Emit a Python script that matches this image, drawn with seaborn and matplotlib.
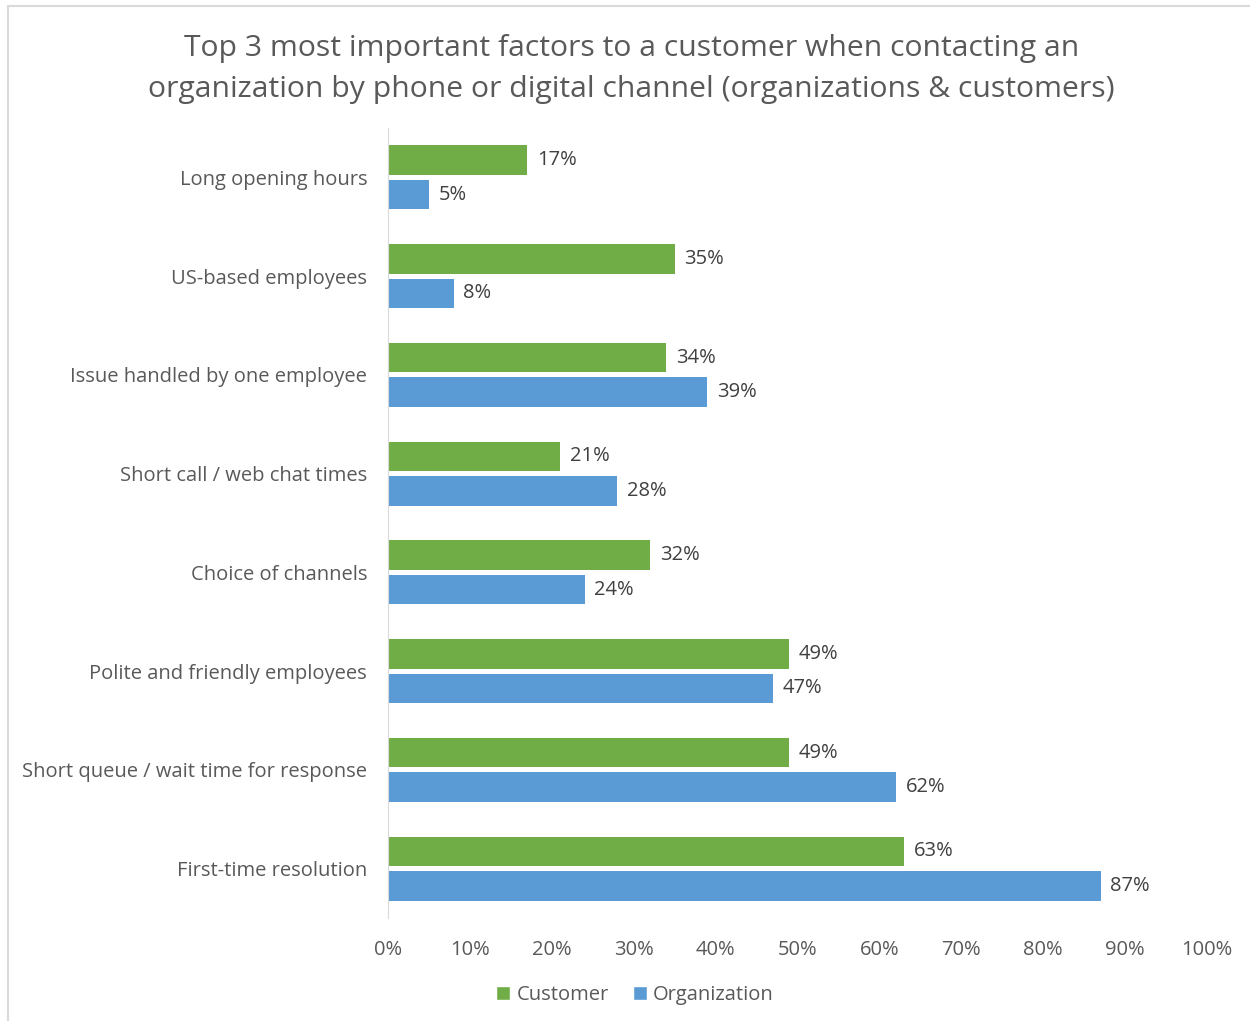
import numpy as np
import pandas as pd
import seaborn as sns
import matplotlib.pyplot as plt
from matplotlib.lines import Line2D
from matplotlib.patches import Patch

# data (percent)
factors = ['Long opening hours', 'US-based employees', 'Issue handled by one employee',
           'Short call / web chat times', 'Choice of channels', 'Polite and friendly employees',
           'Short queue / wait time for response', 'First-time resolution']
customer = [17, 35, 34, 21, 32, 49, 49, 63]
organization = [5, 8, 39, 28, 24, 47, 62, 87]
groups = ['Customer', 'Organization']
colors = ['#70AD47', '#5B9BD5']

df = pd.DataFrame({
    'factor': factors * 2,
    'group': [groups[0]] * len(factors) + [groups[1]] * len(factors),
    'value': customer + organization,
})

sns.set_style('white')
plt.rcParams['font.family'] = ['Open Sans', 'DejaVu Sans']

fig = plt.figure(figsize=(12.5, 10.21), dpi=100)
ax = fig.add_axes([0.3104, 0.1009, 0.6552, 0.7737])

sns.barplot(data=df, y='factor', x='value', hue='group', order=factors,
            hue_order=groups, palette=colors, orient='h', width=0.7, gap=0.15,
            saturation=1, linewidth=0, ax=ax, legend=False)

for cont in ax.containers:
    ax.bar_label(cont, labels=[f'{v:.0f}%' for v in cont.datavalues],
                 padding=7, fontsize=14.5, color='#404040')

ax.set_xlim(0, 100)
ax.set_ylim(len(factors) - 0.5, -0.5)
ax.set_xticks(np.arange(0, 101, 10))
ax.set_xticklabels([f'{t}%' for t in range(0, 101, 10)])
ax.tick_params(axis='x', length=0, pad=16, labelsize=14.5, labelcolor='#595959')
ax.tick_params(axis='y', length=0, pad=15, labelsize=14.5, labelcolor='#595959')
ax.set_xlabel('')
ax.set_ylabel('')
for s in ['top', 'right', 'bottom']:
    ax.spines[s].set_visible(False)
ax.spines['left'].set_color('#d9d9d9')
ax.grid(False)

fig.suptitle('Top 3 most important factors to a customer when contacting an\n'
             'organization by phone or digital channel (organizations & customers)',
             x=0.505, y=0.967, fontsize=21.7, color='#595959', linespacing=1.55)

handles = [Patch(facecolor=c, label=g) for c, g in zip(colors, groups)]
fig.legend(handles=handles, loc='center', bbox_to_anchor=(0.508, 0.025), ncol=2,
           frameon=False, fontsize=14.5, handlelength=0.7, handleheight=0.7,
           handletextpad=0.3, columnspacing=1.2, labelcolor='#595959')

# chart border (left and top edges visible in the reference)
fig.add_artist(Line2D([0.0065, 0.0065], [0, 0.994], color='#d9d9d9', lw=1.5))
fig.add_artist(Line2D([0.0065, 1], [0.994, 0.994], color='#d9d9d9', lw=1.5))

fig.savefig('out.png', dpi=100)
